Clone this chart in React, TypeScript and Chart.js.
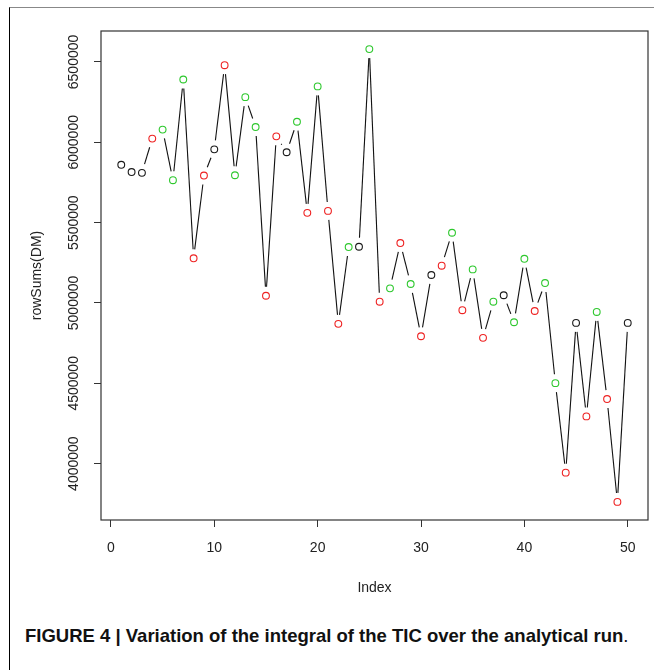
import React, { useEffect, useRef } from 'react';
import { Chart, registerables } from 'chart.js';

Chart.register(...registerables);

const indexValues = [
  1, 2, 3, 4, 5, 6, 7, 8, 9, 10, 11, 12, 13, 14, 15, 16, 17, 18, 19, 20, 21, 22, 23, 24, 25,
  26, 27, 28, 29, 30, 31, 32, 33, 34, 35, 36, 37, 38, 39, 40, 41, 42, 43, 44, 45, 46, 47, 48, 49, 50,
];

const rowSumsValues = [
  5860000, 5815000, 5810000, 6023000, 6079000, 5764000, 6391000, 5278000, 5793000, 5956000,
  6480000, 5795000, 6281000, 6095000, 5045000, 6037000, 5938000, 6128000, 5561000, 6348000,
  5573000, 4870000, 5348000, 5350000, 6580000, 5008000, 5091000, 5373000, 5118000, 4793000,
  5174000, 5232000, 5437000, 4955000, 5209000, 4783000, 5008000, 5048000, 4880000, 5275000,
  4950000, 5124000, 4501000, 3944000, 4876000, 4294000, 4944000, 4402000, 3762000, 4876000,
];

// k = black, r = red, g = green
const pointGroups = [
  'k', 'k', 'k', 'r', 'g', 'g', 'g', 'r', 'r', 'k',
  'r', 'g', 'g', 'g', 'r', 'r', 'k', 'g', 'r', 'g',
  'r', 'r', 'g', 'k', 'g', 'r', 'g', 'r', 'g', 'r',
  'k', 'r', 'g', 'r', 'g', 'r', 'g', 'k', 'g', 'g',
  'r', 'g', 'g', 'r', 'k', 'r', 'g', 'r', 'r', 'k',
];

const xTickLabels = [0, 10, 20, 30, 40, 50];
const yTickLabels = [4000000, 4500000, 5000000, 5500000, 6000000, 6500000];

const groupColors: Record<string, string> = {
  k: '#1a1a1a',
  r: '#ee2222',
  g: '#2ec82e',
};

const FONT = "'Liberation Sans', Arial, Helvetica, sans-serif";
const FONT_SIZE = 14;

export default function App() {
  const canvasRef = useRef<HTMLCanvasElement | null>(null);

  useEffect(() => {
    const canvas = canvasRef.current;
    if (!canvas) return;

    const xMinData = Math.min(...indexValues);
    const xMaxData = Math.max(...indexValues);
    const yMinData = Math.min(...rowSumsValues);
    const yMaxData = Math.max(...rowSumsValues);
    const xPad = (xMaxData - xMinData) * 0.04;
    const yPad = (yMaxData - yMinData) * 0.04;

    const points = indexValues.map((x, i) => ({ x, y: rowSumsValues[i] }));
    const colors = pointGroups.map((g) => groupColors[g]);

    const rPlotPlugin = {
      id: 'rPlot',
      beforeDatasetsDraw(chart: any) {
        const { ctx } = chart;
        const xs = chart.scales.x;
        const ys = chart.scales.y;
        const gap = 9;
        ctx.save();
        ctx.strokeStyle = '#111';
        ctx.lineWidth = 1.1;
        for (let i = 0; i < points.length - 1; i++) {
          const x1 = xs.getPixelForValue(points[i].x);
          const y1 = ys.getPixelForValue(points[i].y);
          const x2 = xs.getPixelForValue(points[i + 1].x);
          const y2 = ys.getPixelForValue(points[i + 1].y);
          const dx = x2 - x1;
          const dy = y2 - y1;
          const len = Math.sqrt(dx * dx + dy * dy);
          if (len <= gap * 2) continue;
          const ux = dx / len;
          const uy = dy / len;
          ctx.beginPath();
          ctx.moveTo(x1 + ux * gap, y1 + uy * gap);
          ctx.lineTo(x2 - ux * gap, y2 - uy * gap);
          ctx.stroke();
        }
        ctx.restore();
      },
      afterDraw(chart: any) {
        const { ctx, chartArea } = chart;
        const ys = chart.scales.y;
        ctx.save();
        ctx.strokeStyle = '#333';
        ctx.lineWidth = 1.2;
        ctx.strokeRect(chartArea.left, chartArea.top, chartArea.right - chartArea.left, chartArea.bottom - chartArea.top);
        ctx.fillStyle = '#222';
        ctx.font = `${FONT_SIZE}px ${FONT}`;
        ctx.textAlign = 'center';
        ctx.textBaseline = 'middle';
        for (const t of yTickLabels) {
          const py = ys.getPixelForValue(t);
          ctx.save();
          ctx.translate(74, py);
          ctx.rotate(-Math.PI / 2);
          ctx.fillText(String(t), 0, 0);
          ctx.restore();
        }
        ctx.restore();
      },
    };

    const chart = new Chart(canvas, {
      type: 'scatter',
      data: {
        datasets: [
          {
            label: 'rowSums(DM)',
            data: points,
            showLine: false,
            pointStyle: 'circle',
            pointRadius: 3.4,
            pointHoverRadius: 3.4,
            pointBorderWidth: 1.1,
            pointBorderColor: colors,
            pointBackgroundColor: 'rgba(0,0,0,0)',
          },
        ],
      },
      options: {
        animation: false,
        responsive: false,
        maintainAspectRatio: false,
        layout: { padding: { top: 31, right: 6, left: 0, bottom: 0 } },
        plugins: {
          legend: { display: false },
          tooltip: { enabled: false },
        },
        events: [],
        scales: {
          x: {
            type: 'linear',
            min: xMinData - xPad,
            max: xMaxData + xPad,
            afterBuildTicks(scale: any) {
              scale.ticks = xTickLabels.map((v) => ({ value: v }));
            },
            afterFit(scale: any) {
              scale.height = 85;
            },
            border: { display: false },
            grid: {
              display: true,
              drawOnChartArea: false,
              drawTicks: true,
              tickLength: 7,
              color: '#333',
              lineWidth: 1,
            },
            ticks: {
              autoSkip: false,
              maxRotation: 0,
              minRotation: 0,
              padding: 13,
              color: '#222',
              font: { family: FONT, size: FONT_SIZE },
              callback: (v: any) => String(v),
            },
            title: {
              display: true,
              text: 'Index',
              color: '#222',
              font: { family: FONT, size: FONT_SIZE },
              padding: { top: 0, bottom: 8 },
            },
          },
          y: {
            type: 'linear',
            min: yMinData - yPad,
            max: yMaxData + yPad,
            afterBuildTicks(scale: any) {
              scale.ticks = yTickLabels.map((v) => ({ value: v }));
            },
            afterFit(scale: any) {
              scale.width = 101;
            },
            border: { display: false },
            grid: {
              display: true,
              drawOnChartArea: false,
              drawTicks: true,
              tickLength: 7,
              color: '#333',
              lineWidth: 1,
            },
            ticks: {
              display: false,
            },
            title: {
              display: true,
              text: 'rowSums(DM)',
              color: '#222',
              font: { family: FONT, size: FONT_SIZE },
              padding: { top: 29, bottom: 0 },
            },
          },
        },
      },
      plugins: [rPlotPlugin],
    });

    return () => {
      chart.destroy();
    };
  }, []);

  return (
    <div style={{ position: 'absolute', left: 0, top: 0, width: 654, height: 670, background: '#fff', overflow: 'hidden' }}>
      <div
        style={{
          position: 'absolute',
          left: 9,
          top: 7,
          width: 645,
          height: 663,
          borderTop: '1px solid #888',
          borderLeft: '1px solid #000',
          boxSizing: 'border-box',
        }}
      />
      <canvas ref={canvasRef} width={654} height={605} style={{ position: 'absolute', left: 0, top: 0, width: 654, height: 605 }} />
      <div
        style={{
          position: 'absolute',
          left: 25,
          top: 625,
          whiteSpace: 'nowrap',
          fontFamily: "'Liberation Sans Narrow', 'Arial Narrow', 'Liberation Sans', Arial, sans-serif",
          fontSize: 18.5,
          lineHeight: '22px',
          color: '#111',
        }}
      >
        <span style={{ fontWeight: 'bold' }}>FIGURE 4 | Variation of the integral of the TIC over the analytical run</span>
        <span>.</span>
      </div>
    </div>
  );
}
